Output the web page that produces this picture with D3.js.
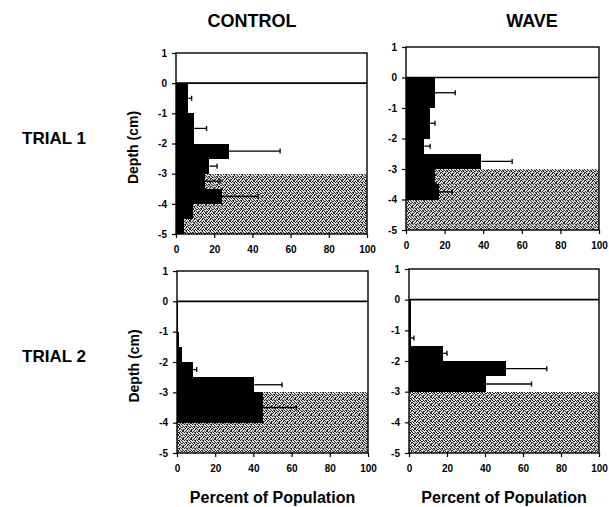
<!DOCTYPE html>
<html lang="en">
<head>
<meta charset="UTF-8">
<title>Depth distribution</title>
<script src="https://cdn.jsdelivr.net/npm/d3@7"></script>
<style>
    body {
        margin: 0;
        background-color: white;
    }
    body * {
        font-family: "Liberation Sans", Arial, sans-serif;
    }
    svg {
        display: block;
    }
    .axis text {
        font-size: 10px;
        font-weight: bold;
    }
    .axis line {
        stroke: black;
        stroke-width: 1.2;
    }
    .axis path {
        display: none;
    }
    .frame {
        fill: none;
        stroke: black;
        stroke-width: 1.4;
    }
    .bigLabel {
        font-weight: bold;
    }
</style>
</head>
<body>
<svg width="609" height="507"></svg>

<script>
    // ticks
    var depthTicks = [1, 0, -1, -2, -3, -4, -5];
    var pctTicks = [0, 20, 40, 60, 80, 100];

    // control, trial 1
    var c1Top = [0, -1, -2, -2.5, -3, -3.5, -4, -4.5];
    var c1Bottom = [-1, -2, -2.5, -3, -3.5, -4, -4.5, -5];
    var c1Pct = [6.5, 9.5, 27.5, 17.5, 15, 24, 9, 4];
    var c1Err = [1.7, 6.5, 27, 4, 8, 19, 0, 0];

    // wave, trial 1
    var w1Top = [0, -1, -2, -2.5, -3, -3.5];
    var w1Bottom = [-1, -2, -2.5, -3, -3.5, -4];
    var w1Pct = [15, 12.5, 9.5, 39, 15, 17];
    var w1Err = [10.5, 2.5, 3, 16, 0, 7];

    // control, trial 2
    var c2Top = [0, -1, -1.5, -2, -2.5, -3];
    var c2Bottom = [-1, -1.5, -2, -2.5, -3, -4];
    var c2Pct = [0.5, 1.2, 2.5, 8.5, 40.5, 45];
    var c2Err = [0, 0, 0, 1.8, 14.5, 17.5];

    // wave, trial 2
    var w2Top = [0, -1, -1.5, -2, -2.5];
    var w2Bottom = [-1, -1.5, -2, -2.5, -3];
    var w2Pct = [0.8, 1, 18, 51, 40.5];
    var w2Err = [0, 1.6, 2, 21.5, 24];

    var sedimentTop = -3;

    var svg = d3.select("svg");

    // stipple for the sediment
    var dots = ["10010110", "01101001", "00100100", "11010010",
                "01001101", "10110000", "00101011", "01000110"];
    var pat = svg.append("defs").append("pattern")
            .attr("id", "sand")
            .attr("patternUnits", "userSpaceOnUse")
            .attr("width", 8)
            .attr("height", 8);
    pat.append("rect").attr("width", 8).attr("height", 8).attr("fill", "#dcdcdc");
    dots.forEach(function (row, j) {
        row.split("").forEach(function (c, i) {
            if (c == "1") {
                pat.append("rect")
                        .attr("x", i).attr("y", j)
                        .attr("width", 1).attr("height", 1)
                        .attr("fill", "#2a2a2a");
            }
        });
    });

    var panels = [
        {left: 176, top: 53, w: 191, h: 181, tops: c1Top, bottoms: c1Bottom, pct: c1Pct, err: c1Err, depthLabel: true, pctLabel: false},
        {left: 406, top: 47, w: 193, h: 183, tops: w1Top, bottoms: w1Bottom, pct: w1Pct, err: w1Err, depthLabel: false, pctLabel: false},
        {left: 177, top: 271, w: 191, h: 182, tops: c2Top, bottoms: c2Bottom, pct: c2Pct, err: c2Err, depthLabel: true, pctLabel: true},
        {left: 409, top: 269, w: 190, h: 184, tops: w2Top, bottoms: w2Bottom, pct: w2Pct, err: w2Err, depthLabel: false, pctLabel: true}
    ];

    panels.forEach(function (p) {
        var getX = d3.scaleLinear().domain([0, 100]).range([0, p.w]);
        var getY = d3.scaleLinear().domain([1, -5]).range([0, p.h]);
        var g = svg.append("g").attr("transform", "translate(" + p.left + "," + p.top + ")");

        g.append("rect")
                .attr("x", 0).attr("y", getY(sedimentTop))
                .attr("width", getX(100))
                .attr("height", getY(-5) - getY(sedimentTop))
                .attr("fill", "url(#sand)")
                .attr("shape-rendering", "crispEdges");

        var bins = p.pct.map(function (v, i) {
            return {top: p.tops[i], bottom: p.bottoms[i], pct: v, err: p.err[i]};
        });

        g.selectAll(".bar")
                .data(bins)
                .enter()
                .append("rect")
                .attr("class", "bar")
                .attr("x", 0)
                .attr("y", function (d) { return getY(d.top); })
                .attr("width", function (d) { return getX(d.pct); })
                .attr("height", function (d) { return getY(d.bottom) - getY(d.top); })
                .attr("fill", "black")
                .attr("shape-rendering", "crispEdges");

        var withErr = bins.filter(function (d) { return d.err > 0; });
        var midY = function (d) { return getY((d.top + d.bottom) / 2); };
        g.selectAll(".errLine")
                .data(withErr)
                .enter()
                .append("line")
                .attr("x1", function (d) { return getX(d.pct); })
                .attr("x2", function (d) { return getX(d.pct + d.err); })
                .attr("y1", midY)
                .attr("y2", midY)
                .attr("stroke", "black")
                .attr("stroke-width", 1.3);
        g.selectAll(".errCap")
                .data(withErr)
                .enter()
                .append("line")
                .attr("x1", function (d) { return getX(d.pct + d.err); })
                .attr("x2", function (d) { return getX(d.pct + d.err); })
                .attr("y1", function (d) { return midY(d) - 2.5; })
                .attr("y2", function (d) { return midY(d) + 2.5; })
                .attr("stroke", "black")
                .attr("stroke-width", 1.3);

        // water surface
        g.append("line")
                .attr("x1", 0).attr("x2", getX(100))
                .attr("y1", getY(0)).attr("y2", getY(0))
                .attr("stroke", "black")
                .attr("stroke-width", 1.6);

        g.append("rect")
                .attr("class", "frame")
                .attr("width", getX(100))
                .attr("height", getY(-5));

        g.append("g")
                .attr("class", "axis")
                .call(d3.axisLeft(getY)
                        .tickValues(depthTicks)
                        .tickFormat(function (d) { return String(d); })
                        .tickSize(4)
                        .tickPadding(5));

        g.append("g")
                .attr("class", "axis")
                .attr("transform", "translate(0," + p.h + ")")
                .call(d3.axisBottom(getX)
                        .tickValues(pctTicks)
                        .tickSize(4)
                        .tickPadding(8));

        if (p.depthLabel) {
            g.append("text")
                    .attr("class", "bigLabel")
                    .attr("transform", "translate(-38," + (p.h / 2 + 4) + ") rotate(-90)")
                    .attr("text-anchor", "middle")
                    .style("font-size", "14px")
                    .text("Depth (cm)");
        }
        if (p.pctLabel) {
            g.append("text")
                    .attr("class", "bigLabel")
                    .attr("x", p.w / 2)
                    .attr("y", p.h + 50)
                    .attr("text-anchor", "middle")
                    .style("font-size", "16px")
                    .text("Percent of Population");
        }
    });

    // column and row titles
    svg.append("text").attr("class", "bigLabel")
            .attr("x", 252).attr("y", 27)
            .attr("text-anchor", "middle")
            .style("font-size", "18px")
            .text("CONTROL");
    svg.append("text").attr("class", "bigLabel")
            .attr("x", 532).attr("y", 27)
            .attr("text-anchor", "middle")
            .style("font-size", "18px")
            .text("WAVE");
    svg.append("text").attr("class", "bigLabel")
            .attr("x", 54).attr("y", 144)
            .attr("text-anchor", "middle")
            .style("font-size", "17px")
            .text("TRIAL 1");
    svg.append("text").attr("class", "bigLabel")
            .attr("x", 54).attr("y", 362)
            .attr("text-anchor", "middle")
            .style("font-size", "17px")
            .text("TRIAL 2");
</script>
</body>
</html>
